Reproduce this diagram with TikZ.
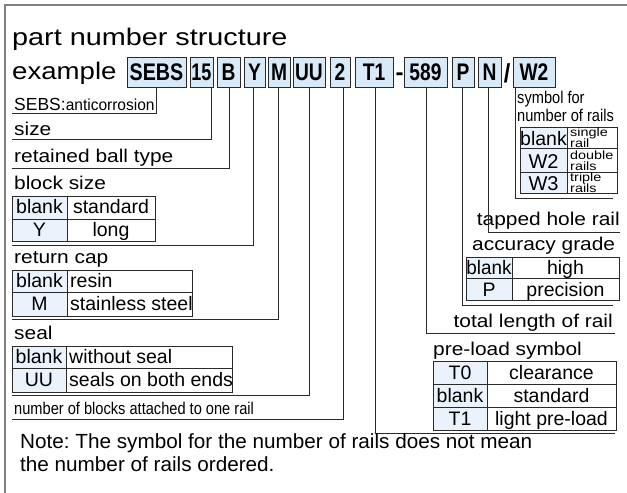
\documentclass[tikz,border=0pt]{standalone}
\usepackage{fontspec}
\setmainfont{Liberation Sans}
\usepackage{graphicx}
\definecolor{boxblue}{HTML}{D8EAF8}
\definecolor{cellblue}{HTML}{EAF3FB}
\definecolor{framegray}{HTML}{808080}
\definecolor{ink}{HTML}{2A2A2A}
\newcommand{\fs}[3]{{\fontsize{#1}{#1}\selectfont\scalebox{#2}[1]{#3}}}
\frenchspacing
\tikzset{
  pbox/.style={draw=ink, fill=boxblue, line width=0.9pt, inner sep=0pt, minimum height=30pt, font=\bfseries},
  lbl/.style={anchor=base west, inner sep=0pt},
  lblr/.style={anchor=base east, inner sep=0pt},
  conn/.style={draw=ink, line width=0.9pt},
  tab/.style={draw=ink, line width=0.9pt},
  ctext/.style={inner sep=0pt, anchor=base},
}
\begin{document}
\begin{tikzpicture}[x=1pt,y=-1pt]
\useasboundingbox (0,0) rectangle (627,493);
\draw[framegray, line width=1.6pt] (5,493) -- (5,5) -- (627,5);
% title
\node[lbl] (t1) at (12,45) {\fs{24}{1.2}{part number structure}};
\node[lbl] (t2) at (12,79) {\fs{24}{1.15}{example}};
% part boxes
\node[pbox, minimum width=59pt] (bSEBS) at (156.5,72) {\fs{24}{0.82}{SEBS}};
\node[pbox, minimum width=23pt] (b15) at (201.5,72) {\fs{24}{0.75}{15}};
\node[pbox, minimum width=23pt] (bB) at (228.5,72) {\fs{24}{0.8}{B}};
\node[pbox, minimum width=21pt] (bY) at (254.5,72) {\fs{24}{0.8}{Y}};
\node[pbox, minimum width=22pt] (bM) at (279,72) {\fs{24}{0.8}{M}};
\node[pbox, minimum width=32pt] (bUU) at (309,72) {\fs{24}{0.8}{UU}};
\node[pbox, minimum width=20pt] (b2) at (340,72) {\fs{24}{0.8}{2}};
\node[pbox, minimum width=38pt] (bT1) at (374,72) {\fs{24}{0.8}{T1}};
\node[inner sep=0pt, anchor=base, font=\bfseries] (dash) at (399.5,80.5) {\fs{24}{1}{-}};
\node[pbox, minimum width=43pt] (b589) at (425.5,72) {\fs{24}{0.8}{589}};
\node[pbox, minimum width=22pt] (bP) at (463,72) {\fs{24}{0.8}{P}};
\node[pbox, minimum width=23pt] (bN) at (489.5,72) {\fs{24}{0.8}{N}};
\node[inner sep=0pt, anchor=base, font=\bfseries] (slash) at (507,82) {\fs{26}{0.9}{/}};
\node[pbox, minimum width=42pt] (bW2) at (534,72) {\fs{24}{0.8}{W2}};
% left labels
\node[lbl] (lSEBS) at (14,110) {\fs{17.5}{1}{SEBS:}\fs{16}{0.97}{anticorrosion}};
\coordinate (uSEBS) at (12,113);
\draw[conn] (bSEBS.south -| 156,0) |- (uSEBS);
\node[lbl] (lsize) at (14,135) {\fs{18.5}{1.13}{size}};
\coordinate (usize) at (12,139);
\draw[conn] (b15.south -| 211,0) |- (usize);
\node[lbl] (lball) at (14,162) {\fs{18.5}{1.13}{retained ball type}};
\coordinate (uball) at (12,168);
\draw[conn] (bB.south -| 229,0) |- (uball);
\node[lbl] (lblock) at (14,189) {\fs{18.5}{1.13}{block size}};
% block size table
\fill[cellblue] (12,196) rectangle (67,241);
\draw[tab] (12,196) rectangle (155,241) (12,219) -- (155,219) (67,196) -- (67,241);
\node[ctext] (bs1a) at (39.5,213) {\fs{19.5}{1}{blank}};
\node[ctext] (bs1b) at (111,213) {\fs{19.5}{1}{standard}};
\node[ctext] (bs2a) at (39.5,236) {\fs{19.5}{1}{Y}};
\node[ctext] (bs2b) at (111,236) {\fs{19.5}{1}{long}};
\coordinate (ublock) at (12,245);
\draw[conn] (bY.south -| 253,0) |- (ublock);
% return cap
\node[lbl] (lcap) at (14,263) {\fs{18.5}{1.13}{return cap}};
\fill[cellblue] (12,270) rectangle (67,316);
\draw[tab] (12,270) rectangle (192,316) (12,292) -- (192,292) (67,270) -- (67,316);
\node[ctext] (rc1a) at (39.5,287) {\fs{19.5}{1}{blank}};
\node[lbl] (rc1b) at (70,287) {\fs{19.5}{1}{resin}};
\node[ctext] (rc2a) at (39.5,310) {\fs{19.5}{1}{M}};
\node[lbl] (rc2b) at (70,310) {\fs{19.5}{1}{stainless steel}};
\coordinate (ucap) at (12,319);
\draw[conn] (bM.south -| 278,0) |- (ucap);
% seal
\node[lbl] (lseal) at (14,339) {\fs{18.5}{1.13}{seal}};
\fill[cellblue] (12,346) rectangle (66,392);
\draw[tab] (12,346) rectangle (232,392) (12,368) -- (232,368) (66,346) -- (66,392);
\node[ctext] (se1a) at (39,363) {\fs{19.5}{1}{blank}};
\node[lbl] (se1b) at (69,363) {\fs{19.5}{1}{without seal}};
\node[ctext] (se2a) at (39,386) {\fs{19.5}{1}{UU}};
\node[lbl] (se2b) at (69,386) {\fs{19.5}{1}{seals on both ends}};
\coordinate (useal) at (12,395);
\draw[conn] (bUU.south -| 309,0) |- (useal);
% number of blocks
\node[lbl] (lnum) at (14,414) {\fs{17}{0.86}{number of blocks attached to one rail}};
\coordinate (unum) at (12,419);
\draw[conn] (b2.south -| 343,0) |- (unum);
% right side: rails
\node[lbl] (lrails1) at (517,103) {\fs{17}{0.86}{symbol for}};
\node[lbl] (lrails2) at (517,121) {\fs{17}{0.86}{number of rails}};
\fill[cellblue] (520,127) rectangle (567,193);
\draw[tab] (520,127) rectangle (617,193) (520,148) -- (617,148) (520,172) -- (617,172) (567,127) -- (567,193);
\node[ctext] (r1a) at (543.5,145) {\fs{19.5}{1}{blank}};
\node[ctext] (r2a) at (543.5,168) {\fs{20}{1}{W2}};
\node[ctext] (r3a) at (543.5,190) {\fs{20}{1}{W3}};
\node[lbl] (r1b) at (570,136) {\fs{12}{1.2}{single}};
\node[lbl] (r1c) at (570,147.5) {\fs{12}{1.2}{rail}};
\node[lbl] (r2b) at (570,159) {\fs{12}{1.2}{double}};
\node[lbl] (r2c) at (570,170) {\fs{12}{1.2}{rails}};
\node[lbl] (r3b) at (570,181) {\fs{12}{1.2}{triple}};
\node[lbl] (r3c) at (570,192.5) {\fs{12}{1.2}{rails}};
\coordinate (urails) at (613,198);
\draw[conn] (bW2.south -| 515,0) |- (urails);
% tapped hole rail
\node[lblr] (ltap) at (620,225) {\fs{18.5}{1.13}{tapped hole rail}};
\coordinate (utap) at (620,232);
\draw[conn] (bN.south -| 488,0) |- (utap);
% accuracy
\node[lbl] (lacc) at (472,250) {\fs{18.5}{1.13}{accuracy grade}};
\fill[cellblue] (466,257) rectangle (512,300);
\draw[tab] (466,257) rectangle (619,300) (466,278) -- (619,278) (512,257) -- (512,300);
\node[ctext] (a1a) at (489,274) {\fs{19.5}{0.97}{blank}};
\node[ctext] (a1b) at (565.5,274) {\fs{19.5}{1}{high}};
\node[ctext] (a2a) at (489,296) {\fs{19.5}{1}{P}};
\node[ctext] (a2b) at (565.5,296) {\fs{19.5}{1}{precision}};
\coordinate (uacc) at (613,305);
\draw[conn] (bP.south -| 462,0) |- (uacc);
% total length
\node[lblr] (llen) at (613,327) {\fs{18.5}{1.13}{total length of rail}};
\coordinate (ulen) at (615,333);
\draw[conn] (b589.south -| 426,0) |- (ulen);
% preload
\node[lbl] (lpre) at (433,355) {\fs{18.5}{1.13}{pre-load symbol}};
\fill[cellblue] (433,361) rectangle (487,430);
\draw[tab] (433,361) rectangle (616,430) (433,384) -- (616,384) (433,407) -- (616,407) (487,361) -- (487,430);
\node[ctext] (p1a) at (460,379) {\fs{19.5}{1}{T0}};
\node[ctext] (p1b) at (551.5,379) {\fs{19.5}{1}{clearance}};
\node[ctext] (p2a) at (460,402) {\fs{19.5}{1}{blank}};
\node[ctext] (p2b) at (551.5,402) {\fs{19.5}{1}{standard}};
\node[ctext] (p3a) at (460,425) {\fs{19.5}{1}{T1}};
\node[ctext] (p3b) at (551.5,425) {\fs{19.5}{1}{light pre-load}};
\coordinate (upre) at (615,433);
\draw[conn] (bT1.south -| 375,0) |- (upre);
% note
\node[lbl] (note1) at (20,448) {\fs{20.5}{1.01}{Note: The symbol for the number of rails does not mean}};
\node[lbl] (note2) at (20,471) {\fs{20.5}{1.01}{the number of rails ordered.}};
\end{tikzpicture}
\end{document}
